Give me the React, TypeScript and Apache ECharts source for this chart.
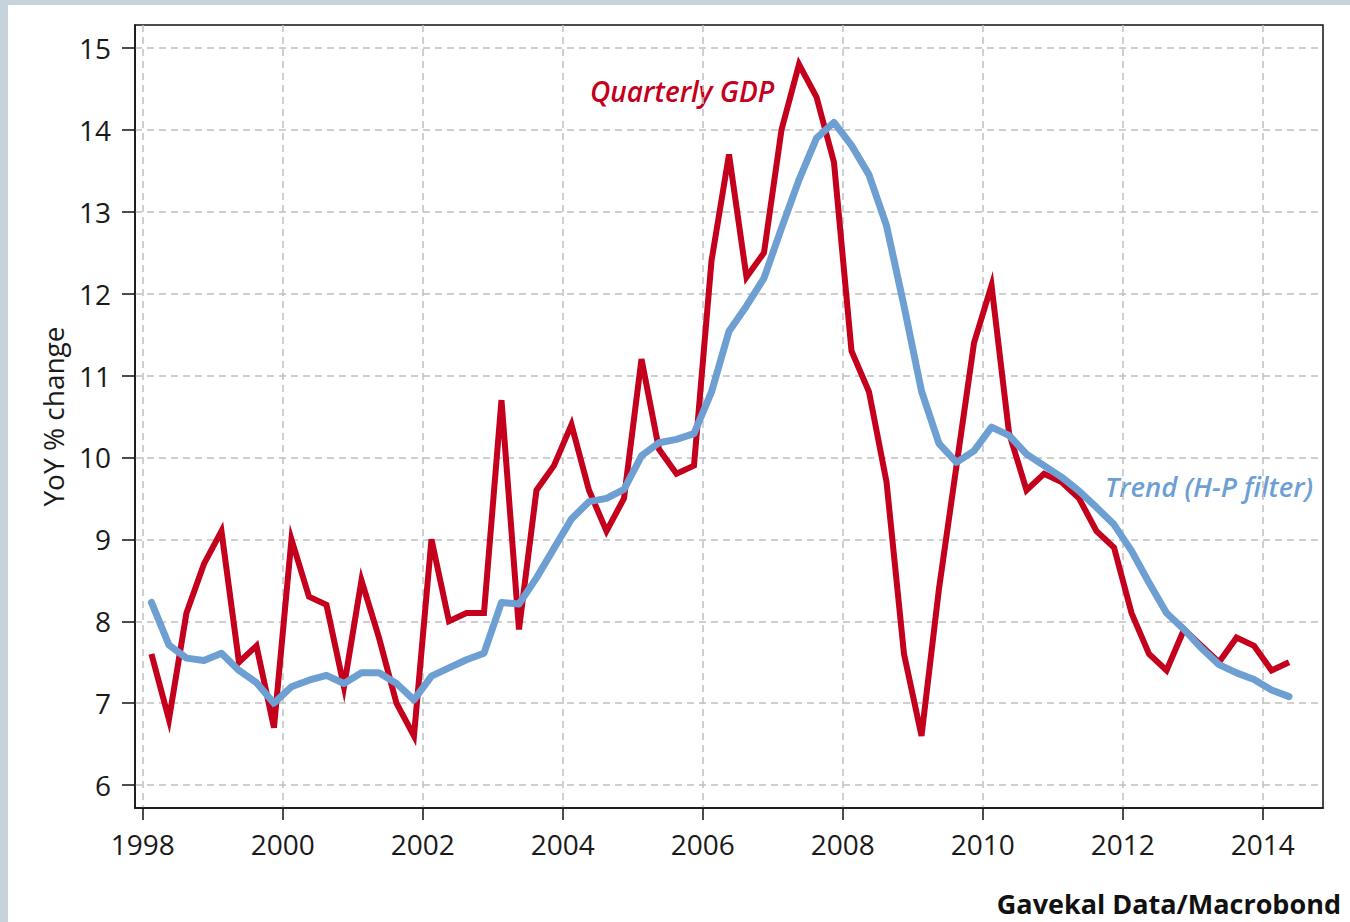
import React, { useEffect, useRef } from "react";
import * as echarts from "echarts";

// Quarterly data, 1998Q1 .. 2014Q2
const START_YEAR = 1998;
const gdpYoY = [
  7.6, 6.8, 8.1, 8.7,
  9.1, 7.5, 7.7, 6.7,
  9.0, 8.3, 8.2, 7.2,
  8.5, 7.8, 7.0, 6.6,
  9.0, 8.0, 8.1, 8.1,
  10.7, 7.9, 9.6, 9.9,
  10.4, 9.6, 9.1, 9.5,
  11.2, 10.1, 9.8, 9.9,
  12.4, 13.7, 12.2, 12.5,
  14.0, 14.8, 14.4, 13.6,
  11.3, 10.8, 9.7, 7.6,
  6.6, 8.4, 9.9, 11.4,
  12.1, 10.3, 9.6, 9.8,
  9.7, 9.5, 9.1, 8.9,
  8.1, 7.6, 7.4, 7.9,
  7.7, 7.5, 7.8, 7.7,
  7.4, 7.5,
];
const hpTrend = [
  8.23, 7.71, 7.55, 7.52,
  7.61, 7.4, 7.25, 7.0,
  7.2, 7.28, 7.34, 7.24,
  7.37, 7.37, 7.24, 7.04,
  7.33, 7.43, 7.53, 7.61,
  8.23, 8.21, 8.53, 8.89,
  9.25, 9.46, 9.5, 9.61,
  10.02, 10.18, 10.22, 10.29,
  10.8, 11.54, 11.85, 12.19,
  12.8, 13.39, 13.9, 14.09,
  13.81, 13.45, 12.83, 11.85,
  10.81, 10.17, 9.94, 10.08,
  10.37, 10.27, 10.04, 9.9,
  9.76, 9.59, 9.39, 9.18,
  8.86, 8.47, 8.1, 7.9,
  7.67, 7.47, 7.37, 7.29,
  7.16, 7.08,
];
const quarters = gdpYoY.map((_, i) => `${START_YEAR + Math.floor(i / 4)}Q${(i % 4) + 1}`);
const xTicks = [1998, 2000, 2002, 2004, 2006, 2008, 2010, 2012, 2014];
const yTicks = [6, 7, 8, 9, 10, 11, 12, 13, 14, 15];

const RED = "#c4001d";
const BLUE = "#6d9fd3";
const FONT = "'Open Sans', 'Noto Sans', sans-serif";

function quarterToX(q: string): number {
  const year = parseInt(q.slice(0, 4), 10);
  const qn = parseInt(q.slice(5), 10);
  return year + (qn - 0.5) / 4;
}

export default function App() {
  const ref = useRef<HTMLDivElement>(null);
  useEffect(() => {
    if (!ref.current) return;
    const chart = echarts.init(ref.current, undefined, { renderer: "svg" });
    const gridDash = { color: "#c0c0c0", width: 1.5, type: [7, 5] as any };
    chart.setOption({
      animation: false,
      backgroundColor: "#ffffff",
      grid: {
        left: 135,
        top: 25,
        right: 27,
        bottom: 114,
        show: true,
        borderColor: "#111",
        borderWidth: 1.5,
        backgroundColor: "transparent",
      },
      xAxis: {
        type: "value",
        min: 1997.89,
        max: 2014.86,
        axisLine: { show: true, lineStyle: { color: "#111", width: 1.5 } },
        axisTick: {
          show: true,
          length: 12,
          inside: false,
          customValues: xTicks,
          lineStyle: { color: "#111", width: 1.5 },
        },
        axisLabel: {
          customValues: xTicks,
          margin: 22,
          color: "#1a1a1a",
          fontSize: 28,
          fontFamily: FONT,
          formatter: (v: number) => String(Math.round(v)),
        },
        splitLine: { show: true, lineStyle: gridDash },
      },
      yAxis: {
        type: "value",
        min: 5.72,
        max: 15.28,
        name: "YoY % change",
        nameLocation: "middle",
        nameGap: 68,
        nameTextStyle: { fontSize: 28, fontFamily: FONT, color: "#1a1a1a" },
        axisLine: { show: true, lineStyle: { color: "#111", width: 1.5 } },
        axisTick: {
          show: true,
          length: 13,
          inside: false,
          customValues: yTicks,
          lineStyle: { color: "#111", width: 1.5 },
        },
        axisLabel: {
          customValues: yTicks,
          margin: 24,
          color: "#1a1a1a",
          fontSize: 28,
          fontFamily: FONT,
        },
        splitLine: { show: true, lineStyle: gridDash },
      },
      series: [
        {
          name: "Quarterly GDP",
          type: "line",
          symbol: "none",
          data: quarters.map((q, i) => [quarterToX(q), gdpYoY[i]]),
          lineStyle: { color: RED, width: 6, join: "miter", miterLimit: 6 },
          z: 3,
        },
        {
          name: "Trend (H-P filter)",
          type: "line",
          symbol: "none",
          data: quarters.map((q, i) => [quarterToX(q), hpTrend[i]]),
          lineStyle: { color: BLUE, width: 7, join: "round", cap: "round" },
          z: 4,
        },
      ],
      graphic: [
        { type: "rect", left: 0, top: 0, z: -10, shape: { width: 1350, height: 5 }, style: { fill: "#c7d3da" } },
        { type: "rect", left: 0, top: 0, z: -10, shape: { width: 8, height: 922 }, style: { fill: "#c7d3da" } },
        {
          type: "text",
          x: 590,
          y: 91,
          style: {
            text: "Quarterly GDP",
            fill: RED,
            font: `italic 600 28px ${FONT}`,
            verticalAlign: "middle",
            align: "left",
          },
        },
        {
          type: "text",
          x: 1105,
          y: 486,
          style: {
            text: "Trend (H-P filter)",
            fill: BLUE,
            font: `italic 600 27.5px ${FONT}`,
            verticalAlign: "middle",
            align: "left",
          },
        },
        {
          type: "text",
          x: 1341,
          y: 903,
          style: {
            text: "Gavekal Data/Macrobond",
            fill: "#111",
            font: `bold 27px ${FONT}`,
            verticalAlign: "middle",
            align: "right",
          },
        },
      ],
    });
    return () => chart.dispose();
  }, []);
  return (
    <div style={{ position: "fixed", left: 0, top: 0, width: 1350, height: 922, background: "#fff" }}>
      <div ref={ref} style={{ width: 1350, height: 922 }} />
    </div>
  );
}
